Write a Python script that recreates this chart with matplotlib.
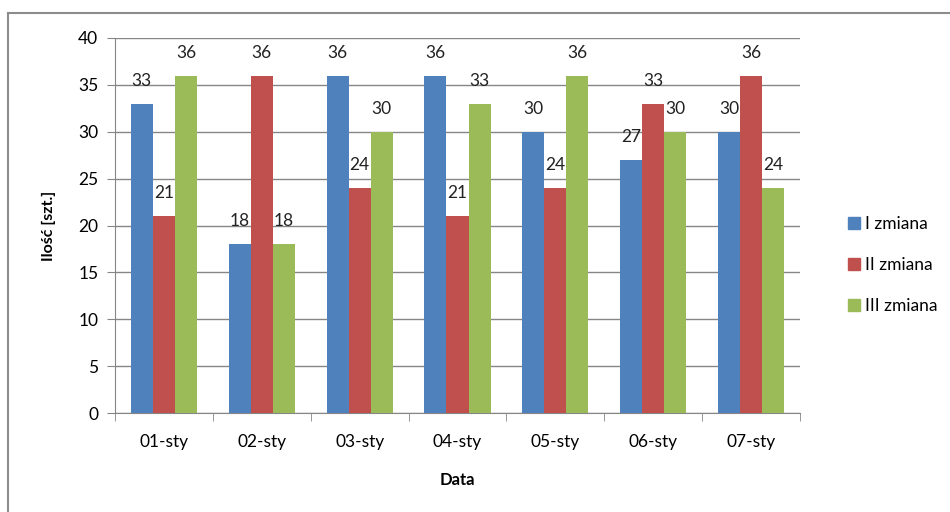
import matplotlib
matplotlib.use("Agg")
import matplotlib.pyplot as plt
from matplotlib.lines import Line2D
import numpy as np

dates = ["01-sty", "02-sty", "03-sty", "04-sty", "05-sty", "06-sty", "07-sty"]
shift_1 = [33, 18, 36, 36, 30, 27, 30]
shift_2 = [21, 36, 24, 21, 24, 33, 36]
shift_3 = [36, 18, 30, 33, 36, 30, 24]
series_names = ["I zmiana", "II zmiana", "III zmiana"]
yticks = [0, 5, 10, 15, 20, 25, 30, 35, 40]

colors = ["#4f81bd", "#c0504d", "#9bbb59"]
grid_color = "#868686"

plt.rcParams['font.family'] = ['Lato', 'DejaVu Sans']

fig = plt.figure(figsize=(9.5, 5.12), dpi=100)
ax = fig.add_axes([115 / 950, 1 - 413 / 512, 685 / 950, 375 / 512])

x = np.arange(len(dates))
width = 0.225
for i, (vals, name) in enumerate(zip([shift_1, shift_2, shift_3], series_names)):
    pos = x + (i - 1) * width
    ax.bar(pos, vals, width, color=colors[i], label=name, zorder=3)
    for p, v in zip(pos, vals):
        ax.text(p, v + 2.45, str(v), ha='center', va='center',
                fontsize=12.5, color='#222222', zorder=4)

ax.set_xlim(-0.5, len(dates) - 0.5)
ax.set_ylim(0, 40)
ax.set_yticks(yticks)
ax.set_xticks(x)
ax.set_xticklabels(dates)
ax.set_xticks(np.arange(-0.5, len(dates)), minor=True)
ax.tick_params(axis='x', which='major', length=0, pad=15, labelsize=12.5)
ax.tick_params(axis='x', which='minor', length=6, color=grid_color,
               direction='out')
ax.tick_params(axis='y', length=6, color=grid_color, labelsize=12.5, pad=6)
ax.yaxis.grid(True, color=grid_color, linewidth=1, zorder=0)

for side in ['top', 'right']:
    ax.spines[side].set_visible(False)
for side in ['left', 'bottom']:
    ax.spines[side].set_color(grid_color)

ax.set_ylabel("Ilość [szt.]", fontsize=11.5, fontweight='bold', labelpad=16)
ax.set_xlabel("Data", fontsize=12, fontweight='bold', labelpad=16)

handles = [Line2D([0], [0], marker='s', linestyle='none', markersize=8,
                  markerfacecolor=c, markeredgecolor=c) for c in colors]
fig.legend(handles, series_names, loc='center left',
           bbox_to_anchor=(830 / 950, 1 - 265 / 512), frameon=False,
           fontsize=12.5, handletextpad=0.1, labelspacing=1.45,
           handlelength=1.0)

# outer chart border (cut off at right and bottom)
fig.add_artist(Line2D([8 / 950, 8 / 950], [0, 1 - 13 / 512],
                      transform=fig.transFigure, color='#8c8c8c', lw=1.5))
fig.add_artist(Line2D([8 / 950, 1], [1 - 13 / 512, 1 - 13 / 512],
                      transform=fig.transFigure, color='#8c8c8c', lw=1.5))

fig.savefig("out.png", dpi=100)
